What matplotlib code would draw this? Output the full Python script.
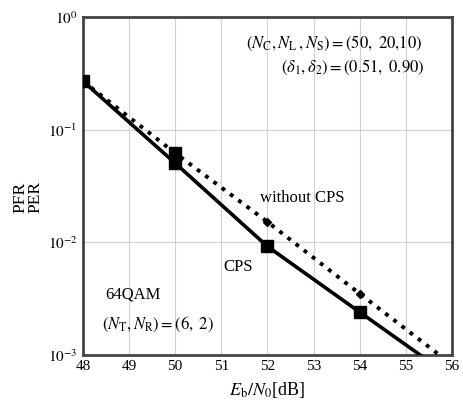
import matplotlib
matplotlib.use("Agg")
import matplotlib.pyplot as plt
import numpy as np

plt.rcParams['font.family'] = ['Liberation Serif', 'DejaVu Serif']
plt.rcParams['mathtext.fontset'] = 'stix'

snr = [48, 50, 52, 54, 56]
per_cps = [0.27, 0.0505, 0.0092, 0.0024, 0.00063]
per_wo = [0.27, 0.062, 0.0152, 0.0035, 0.00082]

xticks = [48, 49, 50, 51, 52, 53, 54, 55, 56]

fig = plt.figure(figsize=(4.63, 4.07), dpi=100)
ax = fig.add_axes([0.179, 0.128, 0.797, 0.830])

ax.plot(snr, per_cps, '-', color='black', lw=2.6, zorder=3)
ax.plot(snr[:4], per_cps[:4], 's', color='black', ms=8, zorder=4)
ax.plot(snr, per_wo, ':', color='black', lw=2.8, zorder=3)
ax.plot(snr[1:2], per_wo[1:2], 's', color='black', ms=8, zorder=4)
ax.plot(snr[2:4], per_wo[2:4], 'D', color='black', ms=4.5, zorder=4)

ax.set_yscale('log')
ax.set_xlim(48, 56)
ax.set_ylim(1e-3, 1)
ax.set_xticks(xticks)
ax.set_xticklabels([str(t) for t in xticks])
ax.set_yticks([1e-3, 1e-2, 1e-1, 1])
ax.set_yticklabels([r'$10^{-3}$', r'$10^{-2}$', r'$10^{-1}$', r'$10^{0}$'])
ax.minorticks_off()
ax.tick_params(length=0, labelsize=11, pad=4)
ax.grid(True, color='#d0d0d0', lw=0.8)
for s in ax.spines.values():
    s.set_linewidth(2.0)
    s.set_color('#444444')

ax.set_xlabel(r'$E_{\mathrm{b}}/N_0$[dB]', fontsize=13, labelpad=5)
ax.set_ylabel('PFR\nPER', fontsize=12.5, linespacing=0.85)
ax.yaxis.set_label_coords(-0.108, 0.467)

ax.text(0.92, 0.923, r'$(N_{\mathrm{C}}, N_{\mathrm{L}}\,, N_{\mathrm{S}}) = (50,\ 20{,}10)$',
        transform=ax.transAxes, ha='right', va='center', fontsize=12)
ax.text(0.925, 0.852, r'$\left(\delta_1, \delta_2\right) = (0.51,\ 0.90)$',
        transform=ax.transAxes, ha='right', va='center', fontsize=12)
ax.text(0.594, 0.464, 'without CPS', transform=ax.transAxes, ha='center', va='center', fontsize=12)
ax.text(0.42, 0.26, 'CPS', transform=ax.transAxes, ha='center', va='center', fontsize=12)
ax.text(0.06, 0.178, '64QAM', transform=ax.transAxes, ha='left', va='center', fontsize=12)
ax.text(0.051, 0.089, r'$(N_{\mathrm{T}}, N_{\mathrm{R}}) = (6,\ 2)$', transform=ax.transAxes,
        ha='left', va='center', fontsize=12)

fig.savefig('out.png', dpi=100)
